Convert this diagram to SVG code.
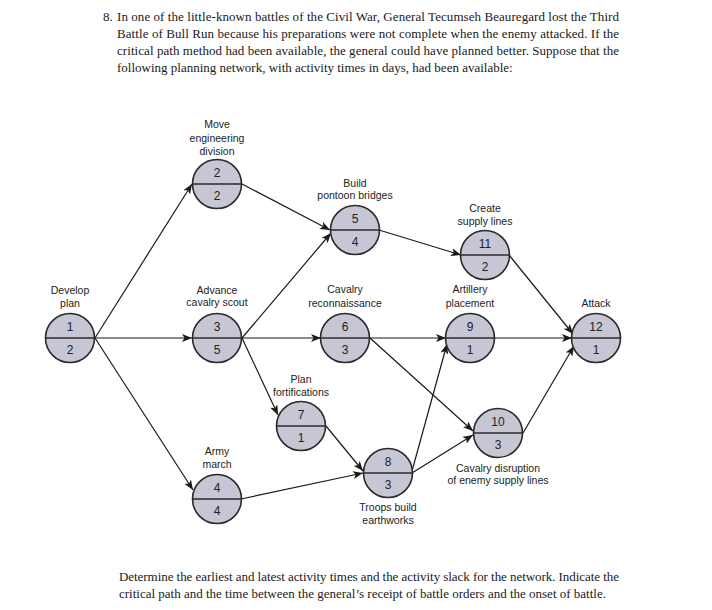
<svg xmlns="http://www.w3.org/2000/svg" width="712" height="610" viewBox="0 0 712 610">
<defs>
<marker id="ah" viewBox="0 0 10 8" refX="10" refY="4" markerWidth="10" markerHeight="8" markerUnits="userSpaceOnUse" orient="auto">
<path d="M0,0 L10,4 L0,8 L2.5,4 z" fill="#1a1a1a"/>
</marker>
</defs>
<style>
.prose{font-family:"Liberation Serif","Times New Roman",serif;font-size:13px;fill:#1a1a1a}
.lbl{font-family:"Liberation Sans",Arial,sans-serif;font-size:10.5px;fill:#222;text-anchor:middle}
.num{font-family:"Liberation Sans",Arial,sans-serif;font-size:12px;fill:#222;text-anchor:middle}
.nd{fill:#c6c6d4;stroke:#2a2a2a;stroke-width:1.6}
.dv{stroke:#2a2a2a;stroke-width:1.6}
.e{stroke:#1a1a1a;stroke-width:1.2;fill:none;marker-end:url(#ah)}
</style>
<rect width="712" height="610" fill="#fff"/>
<g id="prose-top">
<text class="prose" x="103" y="21">8.</text>
<text class="prose" x="117" y="21" textLength="502" lengthAdjust="spacing">In one of the little-known battles of the Civil War, General Tecumseh Beauregard lost the Third</text>
<text class="prose" x="117" y="38" textLength="502" lengthAdjust="spacing">Battle of Bull Run because his preparations were not complete when the enemy attacked. If the</text>
<text class="prose" x="117" y="55" textLength="502" lengthAdjust="spacing">critical path method had been available, the general could have planned better. Suppose that the</text>
<text class="prose" x="117" y="72">following planning network, with activity times in days, had been available:</text>
</g>
<g id="connectors">
<line class="e" x1="95" y1="338" x2="192" y2="184"/>
<line class="e" x1="95" y1="338" x2="192" y2="338"/>
<line class="e" x1="95" y1="338" x2="193" y2="490"/>
<line class="e" x1="242" y1="184" x2="330" y2="230"/>
<line class="e" x1="242" y1="338" x2="331" y2="233"/>
<line class="e" x1="242" y1="338" x2="321" y2="338"/>
<line class="e" x1="242" y1="338" x2="278" y2="415"/>
<line class="e" x1="241" y1="499" x2="363" y2="473"/>
<line class="e" x1="326" y1="426" x2="363" y2="471"/>
<line class="e" x1="379" y1="230" x2="461" y2="255"/>
<line class="e" x1="370" y1="338" x2="446" y2="338"/>
<line class="e" x1="370" y1="338" x2="473" y2="431"/>
<line class="e" x1="412" y1="471" x2="447" y2="344"/>
<line class="e" x1="412" y1="473" x2="473" y2="435"/>
<line class="e" x1="509" y1="255" x2="573" y2="334"/>
<line class="e" x1="495" y1="338" x2="572" y2="338"/>
<line class="e" x1="523" y1="433" x2="574" y2="346"/>
</g>
<g id="n1">
<text class="lbl" x="70" y="294">Develop</text>
<text class="lbl" x="70" y="307">plan</text>
<circle class="nd" cx="70" cy="338" r="24.5"/>
<line class="dv" x1="45.5" y1="338" x2="94.5" y2="338"/>
<text class="num" x="70" y="331">1</text>
<text class="num" x="70" y="354">2</text>
</g>
<g id="n2">
<text class="lbl" x="217" y="128">Move</text>
<text class="lbl" x="217" y="142">engineering</text>
<text class="lbl" x="217" y="155">division</text>
<circle class="nd" cx="217" cy="184" r="24.5"/>
<line class="dv" x1="192.5" y1="184" x2="241.5" y2="184"/>
<text class="num" x="217" y="177">2</text>
<text class="num" x="217" y="200">2</text>
</g>
<g id="n3">
<text class="lbl" x="217" y="294">Advance</text>
<text class="lbl" x="217" y="306">cavalry scout</text>
<circle class="nd" cx="217" cy="338" r="24.5"/>
<line class="dv" x1="192.5" y1="338" x2="241.5" y2="338"/>
<text class="num" x="217" y="331">3</text>
<text class="num" x="217" y="354">5</text>
</g>
<g id="n4">
<text class="lbl" x="217" y="455">Army</text>
<text class="lbl" x="217" y="468">march</text>
<circle class="nd" cx="217" cy="499" r="24.5"/>
<line class="dv" x1="192.5" y1="499" x2="241.5" y2="499"/>
<text class="num" x="217" y="492">4</text>
<text class="num" x="217" y="515">4</text>
</g>
<g id="n5">
<text class="lbl" x="355" y="187">Build</text>
<text class="lbl" x="355" y="199">pontoon bridges</text>
<circle class="nd" cx="355" cy="230" r="24.5"/>
<line class="dv" x1="330.5" y1="230" x2="379.5" y2="230"/>
<text class="num" x="355" y="223">5</text>
<text class="num" x="355" y="246">4</text>
</g>
<g id="n6">
<text class="lbl" x="345" y="293">Cavalry</text>
<text class="lbl" x="345" y="307">reconnaissance</text>
<circle class="nd" cx="345" cy="338" r="24.5"/>
<line class="dv" x1="320.5" y1="338" x2="369.5" y2="338"/>
<text class="num" x="345" y="331">6</text>
<text class="num" x="345" y="354">3</text>
</g>
<g id="n7">
<text class="lbl" x="301" y="383">Plan</text>
<text class="lbl" x="301" y="396">fortifications</text>
<circle class="nd" cx="301" cy="426" r="24.5"/>
<line class="dv" x1="276.5" y1="426" x2="325.5" y2="426"/>
<text class="num" x="301" y="419">7</text>
<text class="num" x="301" y="442">1</text>
</g>
<g id="n8">
<circle class="nd" cx="388" cy="473" r="24.5"/>
<line class="dv" x1="363.5" y1="473" x2="412.5" y2="473"/>
<text class="num" x="388" y="466">8</text>
<text class="num" x="388" y="489">3</text>
<text class="lbl" x="388" y="511">Troops build</text>
<text class="lbl" x="388" y="524">earthworks</text>
</g>
<g id="n9">
<text class="lbl" x="470" y="293">Artillery</text>
<text class="lbl" x="470" y="307">placement</text>
<circle class="nd" cx="470" cy="338" r="24.5"/>
<line class="dv" x1="445.5" y1="338" x2="494.5" y2="338"/>
<text class="num" x="470" y="331">9</text>
<text class="num" x="470" y="354">1</text>
</g>
<g id="n10">
<circle class="nd" cx="498" cy="433" r="24.5"/>
<line class="dv" x1="473.5" y1="433" x2="522.5" y2="433"/>
<text class="num" x="498" y="426">10</text>
<text class="num" x="498" y="449">3</text>
<text class="lbl" x="498" y="472">Cavalry disruption</text>
<text class="lbl" x="498" y="484">of enemy supply lines</text>
</g>
<g id="n11">
<text class="lbl" x="485" y="212">Create</text>
<text class="lbl" x="485" y="225">supply lines</text>
<circle class="nd" cx="485" cy="255" r="24.5"/>
<line class="dv" x1="460.5" y1="255" x2="509.5" y2="255"/>
<text class="num" x="485" y="248">11</text>
<text class="num" x="485" y="271">2</text>
</g>
<g id="n12">
<text class="lbl" x="596" y="307">Attack</text>
<circle class="nd" cx="596" cy="338" r="24.5"/>
<line class="dv" x1="571.5" y1="338" x2="620.5" y2="338"/>
<text class="num" x="596" y="331">12</text>
<text class="num" x="596" y="354">1</text>
</g>
<g id="prose-bottom">
<text class="prose" x="119" y="581" textLength="500" lengthAdjust="spacing">Determine the earliest and latest activity times and the activity slack for the network. Indicate the</text>
<text class="prose" x="119" y="598">critical path and the time between the general’s receipt of battle orders and the onset of battle.</text>
</g>
</svg>
